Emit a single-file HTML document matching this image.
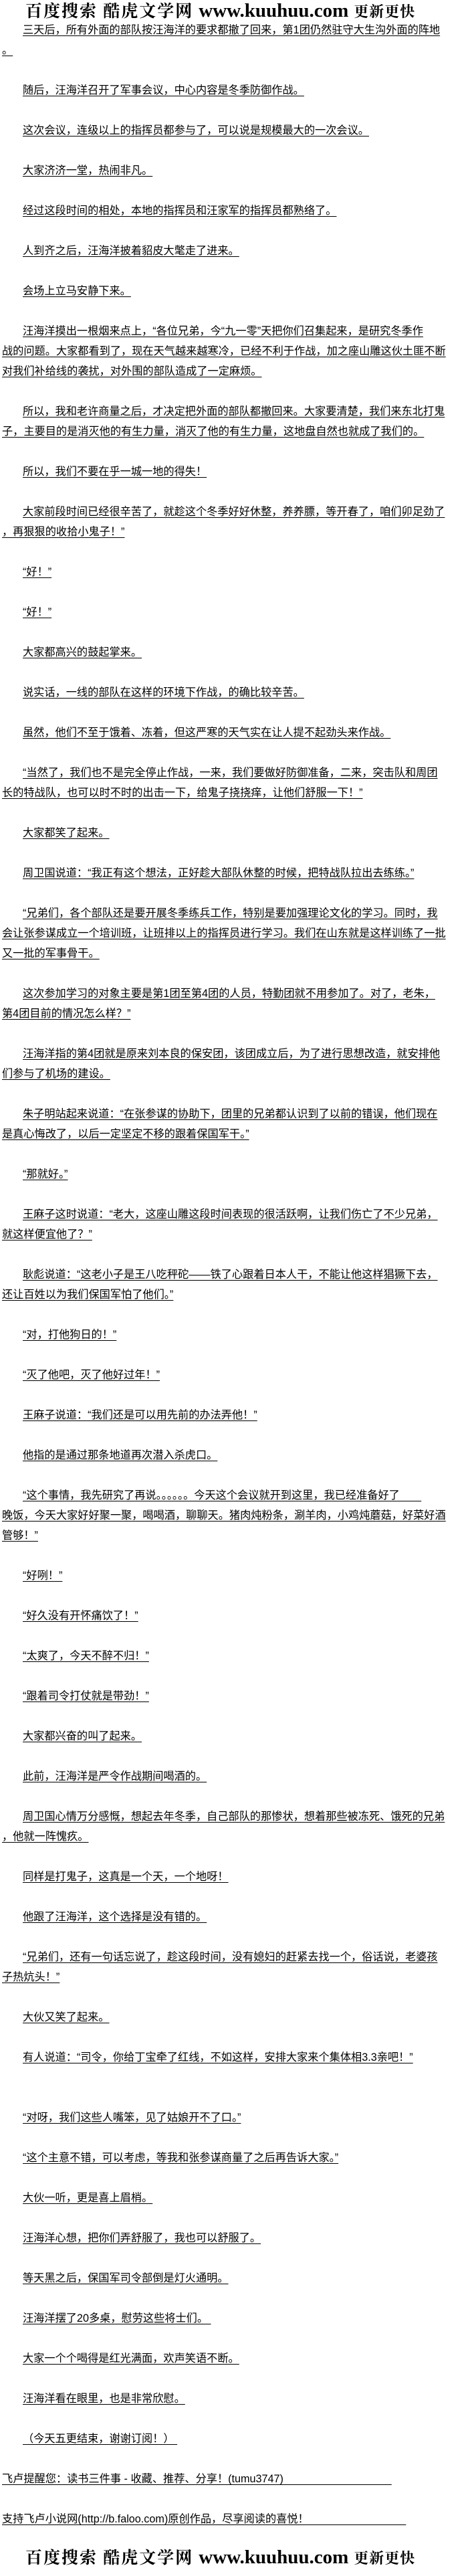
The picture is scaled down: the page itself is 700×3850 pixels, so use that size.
<!DOCTYPE html>
<html><head><meta charset="utf-8">
<style>
html,body{margin:0;padding:0;background:#fff;}
body{width:700px;height:3850px;position:relative;overflow:hidden;font-family:"Liberation Sans","Noto Sans CJK SC","WenQuanYi Zen Hei",sans-serif;color:#000;}
.hd{position:absolute;left:38px;height:30px;white-space:nowrap;font-weight:bold;line-height:30px;}
.hd .c{font-family:"Noto Serif CJK SC","Liberation Serif",serif;font-size:25px;letter-spacing:2px;}
.hd .u{font-family:"Liberation Serif",serif;font-size:29px;margin:0 8px;}
.hd .f{font-family:"Noto Serif CJK SC","Liberation Serif",serif;font-size:22px;letter-spacing:1px;}
#txt{position:absolute;left:3px;top:30px;width:690px;}
.l{height:30px;line-height:30px;font-size:16.2px;white-space:pre;}
.l span{text-decoration:underline;text-underline-offset:3px;}
.i{padding-left:31px;}
</style></head><body>
<div class="hd" style="top:0px"><span class="c">百度搜索 酷虎文学网</span><span class="u">www.kuuhuu.com</span><span class="f">更新更快</span></div>
<div id="txt">
<div class="l i"><span>三天后，所有外面的部队按汪海洋的要求都撤了回来，第1团仍然驻守大生沟外面的阵地</span></div>
<div class="l"><span>。</span></div>
<div class="l"></div>
<div class="l i"><span>随后，汪海洋召开了军事会议，中心内容是冬季防御作战。</span></div>
<div class="l"></div>
<div class="l i"><span>这次会议，连级以上的指挥员都参与了，可以说是规模最大的一次会议。</span></div>
<div class="l"></div>
<div class="l i"><span>大家济济一堂，热闹非凡。</span></div>
<div class="l"></div>
<div class="l i"><span>经过这段时间的相处，本地的指挥员和汪家军的指挥员都熟络了。</span></div>
<div class="l"></div>
<div class="l i"><span>人到齐之后，汪海洋披着貂皮大氅走了进来。</span></div>
<div class="l"></div>
<div class="l i"><span>会场上立马安静下来。</span></div>
<div class="l"></div>
<div class="l i"><span>汪海洋摸出一根烟来点上，“各位兄弟，今“九一零”天把你们召集起来，是研究冬季作</span></div>
<div class="l"><span>战的问题。大家都看到了，现在天气越来越寒冷，已经不利于作战，加之座山雕这伙土匪不断</span></div>
<div class="l"><span>对我们补给线的袭扰，对外围的部队造成了一定麻烦。</span></div>
<div class="l"></div>
<div class="l i"><span>所以，我和老许商量之后，才决定把外面的部队都撤回来。大家要清楚，我们来东北打鬼</span></div>
<div class="l"><span>子，主要目的是消灭他的有生力量，消灭了他的有生力量，这地盘自然也就成了我们的。</span></div>
<div class="l"></div>
<div class="l i"><span>所以，我们不要在乎一城一地的得失！</span></div>
<div class="l"></div>
<div class="l i"><span>大家前段时间已经很辛苦了，就趁这个冬季好好休整，养养膘，等开春了，咱们卯足劲了</span></div>
<div class="l"><span>，再狠狠的收拾小鬼子！”</span></div>
<div class="l"></div>
<div class="l i"><span>“好！”</span></div>
<div class="l"></div>
<div class="l i"><span>“好！”</span></div>
<div class="l"></div>
<div class="l i"><span>大家都高兴的鼓起掌来。</span></div>
<div class="l"></div>
<div class="l i"><span>说实话，一线的部队在这样的环境下作战，的确比较辛苦。</span></div>
<div class="l"></div>
<div class="l i"><span>虽然，他们不至于饿着、冻着，但这严寒的天气实在让人提不起劲头来作战。</span></div>
<div class="l"></div>
<div class="l i"><span>“当然了，我们也不是完全停止作战，一来，我们要做好防御准备，二来，突击队和周团</span></div>
<div class="l"><span>长的特战队，也可以时不时的出击一下，给鬼子挠挠痒，让他们舒服一下！”</span></div>
<div class="l"></div>
<div class="l i"><span>大家都笑了起来。</span></div>
<div class="l"></div>
<div class="l i"><span>周卫国说道：“我正有这个想法，正好趁大部队休整的时候，把特战队拉出去练练。”</span></div>
<div class="l"></div>
<div class="l i"><span>“兄弟们，各个部队还是要开展冬季练兵工作，特别是要加强理论文化的学习。同时，我</span></div>
<div class="l"><span>会让张参谋成立一个培训班，让班排以上的指挥员进行学习。我们在山东就是这样训练了一批</span></div>
<div class="l"><span>又一批的军事骨干。</span></div>
<div class="l"></div>
<div class="l i"><span>这次参加学习的对象主要是第1团至第4团的人员，特勤团就不用参加了。对了，老朱，</span></div>
<div class="l"><span>第4团目前的情况怎么样？”</span></div>
<div class="l"></div>
<div class="l i"><span>汪海洋指的第4团就是原来刘本良的保安团，该团成立后，为了进行思想改造，就安排他</span></div>
<div class="l"><span>们参与了机场的建设。</span></div>
<div class="l"></div>
<div class="l i"><span>朱子明站起来说道：“在张参谋的协助下，团里的兄弟都认识到了以前的错误，他们现在</span></div>
<div class="l"><span>是真心悔改了，以后一定坚定不移的跟着保国军干。”</span></div>
<div class="l"></div>
<div class="l i"><span>“那就好。”</span></div>
<div class="l"></div>
<div class="l i"><span>王麻子这时说道：“老大，这座山雕这段时间表现的很活跃啊，让我们伤亡了不少兄弟，</span></div>
<div class="l"><span>就这样便宜他了？”</span></div>
<div class="l"></div>
<div class="l i"><span>耿彪说道：“这老小子是王八吃秤砣——铁了心跟着日本人干，不能让他这样猖獗下去，</span></div>
<div class="l"><span>还让百姓以为我们保国军怕了他们。”</span></div>
<div class="l"></div>
<div class="l i"><span>“对，打他狗日的！”</span></div>
<div class="l"></div>
<div class="l i"><span>“灭了他吧，灭了他好过年！”</span></div>
<div class="l"></div>
<div class="l i"><span>王麻子说道：“我们还是可以用先前的办法弄他！”</span></div>
<div class="l"></div>
<div class="l i"><span>他指的是通过那条地道再次潜入杀虎口。</span></div>
<div class="l"></div>
<div class="l i"><span>“这个事情，我先研究了再说。。。。。。今天这个会议就开到这里，我已经准备好了　　</span></div>
<div class="l"><span>晚饭，今天大家好好聚一聚，喝喝酒，聊聊天。猪肉炖粉条，涮羊肉，小鸡炖蘑菇，好菜好酒</span></div>
<div class="l"><span>管够！”</span></div>
<div class="l"></div>
<div class="l i"><span>“好咧！”</span></div>
<div class="l"></div>
<div class="l i"><span>“好久没有开怀痛饮了！”</span></div>
<div class="l"></div>
<div class="l i"><span>“太爽了，今天不醉不归！”</span></div>
<div class="l"></div>
<div class="l i"><span>“跟着司令打仗就是带劲！”</span></div>
<div class="l"></div>
<div class="l i"><span>大家都兴奋的叫了起来。</span></div>
<div class="l"></div>
<div class="l i"><span>此前，汪海洋是严令作战期间喝酒的。</span></div>
<div class="l"></div>
<div class="l i"><span>周卫国心情万分感慨，想起去年冬季，自己部队的那惨状，想着那些被冻死、饿死的兄弟</span></div>
<div class="l"><span>，他就一阵愧疚。</span></div>
<div class="l"></div>
<div class="l i"><span>同样是打鬼子，这真是一个天，一个地呀！</span></div>
<div class="l"></div>
<div class="l i"><span>他跟了汪海洋，这个选择是没有错的。</span></div>
<div class="l"></div>
<div class="l i"><span>“兄弟们，还有一句话忘说了，趁这段时间，没有媳妇的赶紧去找一个，俗话说，老婆孩</span></div>
<div class="l"><span>子热炕头！”</span></div>
<div class="l"></div>
<div class="l i"><span>大伙又笑了起来。</span></div>
<div class="l"></div>
<div class="l i"><span>有人说道：“司令，你给丁宝牵了红线，不如这样，安排大家来个集体相3.3亲吧！”</span></div>
<div class="l"></div>
<div class="l"></div>
<div class="l i"><span>“对呀，我们这些人嘴笨，见了姑娘开不了口。”</span></div>
<div class="l"></div>
<div class="l i"><span>“这个主意不错，可以考虑，等我和张参谋商量了之后再告诉大家。”</span></div>
<div class="l"></div>
<div class="l i"><span>大伙一听，更是喜上眉梢。</span></div>
<div class="l"></div>
<div class="l i"><span>汪海洋心想，把你们弄舒服了，我也可以舒服了。</span></div>
<div class="l"></div>
<div class="l i"><span>等天黑之后，保国军司令部倒是灯火通明。</span></div>
<div class="l"></div>
<div class="l i"><span>汪海洋摆了20多桌，慰劳这些将士们。 </span></div>
<div class="l"></div>
<div class="l i"><span>大家一个个喝得是红光满面，欢声笑语不断。</span></div>
<div class="l"></div>
<div class="l i"><span>汪海洋看在眼里，也是非常欣慰。</span></div>
<div class="l"></div>
<div class="l i"><span>（今天五更结束，谢谢订阅！） </span></div>
<div class="l"></div>
<div class="l"><span>飞卢提醒您：读书三件事 - 收藏、推荐、分享！(tumu3747)　　　　　　　　　　</span></div>
<div class="l"></div>
<div class="l"><span>支持飞卢小说网(http://b.faloo.com)原创作品，尽享阅读的喜悦！　　　　　　　　　</span></div>
</div>
<div class="hd" style="top:3806px"><span class="c">百度搜索 酷虎文学网</span><span class="u">www.kuuhuu.com</span><span class="f">更新更快</span></div>
</body></html>
